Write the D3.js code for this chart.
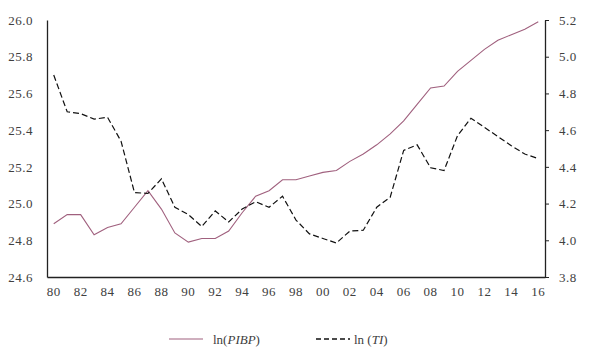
<!DOCTYPE html>
<html>
<head>
<meta charset="utf-8">
<script src="https://cdn.jsdelivr.net/npm/d3@7"></script>
<style>
  body { margin: 0; background: #fff; }
  text { font-family: "Liberation Serif", "DejaVu Serif", serif; fill: #404040; }
</style>
</head>
<body>
<script>
// data
var years = d3.range(1980, 2017);
var pibp = [24.89, 24.94, 24.94, 24.83, 24.87, 24.89, 24.98, 25.07, 24.97, 24.84,
            24.79, 24.81, 24.81, 24.85, 24.95, 25.04, 25.07, 25.13, 25.13, 25.15,
            25.17, 25.18, 25.23, 25.27, 25.32, 25.38, 25.45, 25.54, 25.63, 25.64,
            25.72, 25.78, 25.84, 25.89, 25.92, 25.95, 25.99];
var ti = [4.90, 4.70, 4.69, 4.66, 4.67, 4.54, 4.26, 4.255, 4.335, 4.18,
          4.14, 4.075, 4.16, 4.10, 4.17, 4.21, 4.18, 4.24, 4.11, 4.035,
          4.01, 3.985, 4.05, 4.055, 4.18, 4.235, 4.49, 4.52, 4.395, 4.38,
          4.57, 4.665, 4.615, 4.565, 4.515, 4.47, 4.445];
var leftTicks = [24.6, 24.8, 25.0, 25.2, 25.4, 25.6, 25.8, 26.0];
var rightTicks = [3.8, 4.0, 4.2, 4.4, 4.6, 4.8, 5.0, 5.2];

var width = 589, height = 354;
var plotL = 47, plotR = 545, plotT = 20, plotB = 277;

var svg = d3.select("body").append("svg")
    .attr("width", width)
    .attr("height", height);

var x = d3.scaleBand()
    .domain(years)
    .range([plotL, plotR]);

var yL = d3.scaleLinear().domain([24.6, 26.0]).range([plotB, plotT]);
var yR = d3.scaleLinear().domain([3.8, 5.2]).range([plotB, plotT]);

function cx(d, i) { return x(years[i]) + x.bandwidth() / 2; }

// left axis
var gl = svg.append("g")
    .attr("transform", "translate(" + plotL + ",0)")
    .call(d3.axisLeft(yL).tickValues(leftTicks).tickFormat(d3.format(".1f")).tickSize(0).tickPadding(14));
gl.select(".domain").attr("stroke", "#222").attr("stroke-width", 1.3);
gl.selectAll("text").attr("font-size", 13).attr("letter-spacing", 0.5).style("font-family", "Liberation Serif, serif");

// right axis
var gr = svg.append("g")
    .attr("transform", "translate(" + plotR + ",0)")
    .call(d3.axisRight(yR).tickValues(rightTicks).tickFormat(d3.format(".1f")).tickSizeInner(4).tickSizeOuter(0).tickPadding(10));
gr.select(".domain").attr("stroke", "#222").attr("stroke-width", 1.3);
gr.selectAll(".tick line").attr("stroke", "#222");
gr.selectAll("text").attr("font-size", 13).attr("letter-spacing", 0.5).style("font-family", "Liberation Serif, serif");

// bottom axis
var gb = svg.append("g")
    .attr("transform", "translate(0," + plotB + ")")
    .call(d3.axisBottom(x)
        .tickValues(years.filter(function(d) { return d % 2 == 0; }))
        .tickFormat(function(d) { return d3.format("02d")(d % 100); })
        .tickSize(0).tickPadding(10));
gb.select(".domain").attr("stroke", "#222").attr("stroke-width", 1.3);
gb.selectAll("text").attr("font-size", 13).attr("letter-spacing", 0.5).style("font-family", "Liberation Serif, serif");

// lines
var lineL = d3.line().x(cx).y(function(d) { return yL(d); });
var lineR = d3.line().x(cx).y(function(d) { return yR(d); });

svg.append("path")
    .datum(pibp)
    .attr("d", lineL)
    .attr("fill", "none")
    .attr("stroke", "#a0607e")
    .attr("stroke-width", 1.1);

svg.append("path")
    .datum(ti)
    .attr("d", lineR)
    .attr("fill", "none")
    .attr("stroke", "#111")
    .attr("stroke-width", 1.2)
    .attr("stroke-dasharray", "6,3");

// legend
var lg = svg.append("g");
lg.append("line")
    .attr("x1", 169).attr("x2", 203).attr("y1", 339).attr("y2", 339)
    .attr("stroke", "#a0607e").attr("stroke-width", 1.1);
var t1 = lg.append("text").attr("x", 213).attr("y", 344).attr("font-size", 13);
t1.append("tspan").text("ln(");
t1.append("tspan").attr("font-style", "italic").text("PIBP");
t1.append("tspan").text(")");

lg.append("line")
    .attr("x1", 316).attr("x2", 350).attr("y1", 339).attr("y2", 339)
    .attr("stroke", "#111").attr("stroke-width", 1.3)
    .attr("stroke-dasharray", "5,3");
var t2 = lg.append("text").attr("x", 354).attr("y", 344).attr("font-size", 13);
t2.append("tspan").text("ln (");
t2.append("tspan").attr("font-style", "italic").text("TI");
t2.append("tspan").text(")");
</script>
</body>
</html>
